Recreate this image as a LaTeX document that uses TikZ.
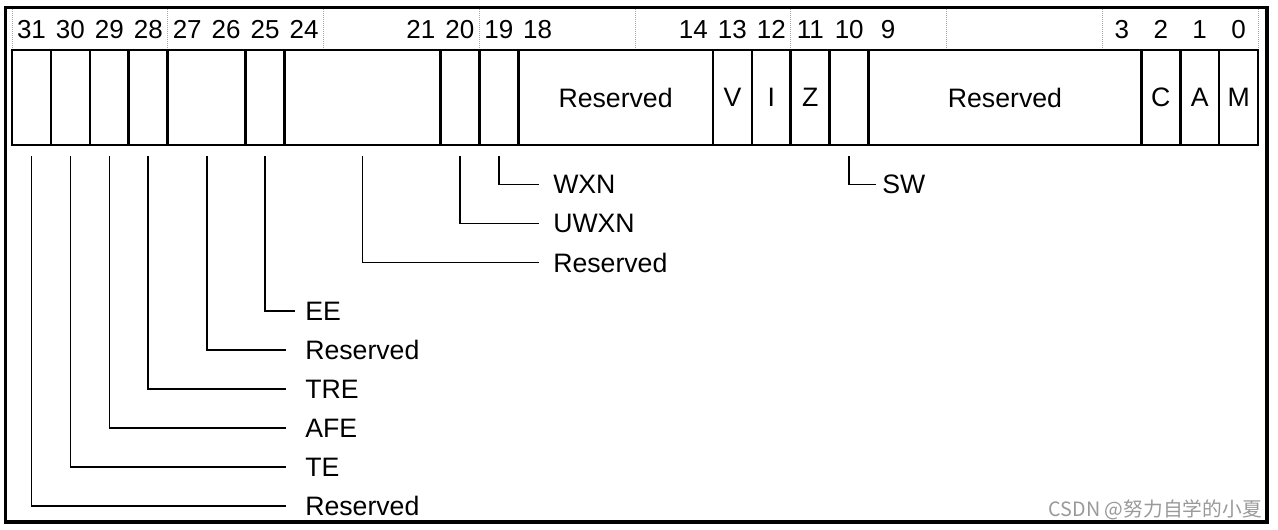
\documentclass[tikz,border=0pt]{standalone}
\usepackage{fontspec}
\setmainfont{Liberation Sans}
\newfontfamily\cjk{Noto Sans CJK SC}
\begin{document}
\begin{tikzpicture}[x=0.75pt,y=-0.75pt,
  field/.style={draw, line width=2pt, minimum height=71.25pt, inner sep=0pt, font=\fontsize{20}{24}\selectfont},
  bitno/.style={anchor=base, inner sep=0pt, font=\fontsize{19.5}{24}\selectfont},
  lbl/.style={anchor=west, inner sep=0pt, font=\fontsize{20}{24}\selectfont},
  lead/.style={line width=1.2pt},
  sep/.style={gray!70, densely dotted, line width=0.5pt}]
  \useasboundingbox (0,0) rectangle (1278,529);

  % frame
  \draw[line width=2.4pt] (5.5,7.5) rectangle (1267,522);

  % bit numbers
  \foreach \k in {0,...,8}
    \draw[sep] ({12+4*\k*38.94},9) -- ({12+4*\k*38.94},48);
  \foreach \b in {31,30,29,28,27,26,25,24,21,20,19,18,14,13,12,11,10,9,3,2,1,0}
    \node[bitno] (n\b) at ({12+(31-\b+0.5)*38.94},38) {\b};

  % fields
  \foreach \hi/\lo/\txt in {31/31/{},30/30/{},29/29/{},28/28/{},27/26/{},25/25/{},24/21/{},
      20/20/{},19/19/{},18/14/Reserved,13/13/V,12/12/I,11/11/Z,10/10/{},9/3/Reserved,2/2/C,1/1/A,0/0/M}
    \node[field, minimum width={(\hi-\lo+1)*29.205pt}] (f\hi) at ({12+(31-\hi+(\hi-\lo+1)/2)*38.94},97.5) {\txt};

  % labels
  \node[lbl] (l19) at (553,184.5) {WXN};
  \node[lbl] (l20) at (553,223.5) {UWXN};
  \node[lbl] (l24) at (553,262.5) {Reserved};
  \node[lbl] (l10) at (882,184.5) {SW};
  \node[lbl] (l25) at (305,311) {EE};
  \node[lbl] (l27) at (305,350) {Reserved};
  \node[lbl] (l28) at (305,389) {TRE};
  \node[lbl] (l29) at (305,428) {AFE};
  \node[lbl] (l30) at (305,467) {TE};
  \node[lbl] (l31) at (305,506) {Reserved};

  % leaders
  \foreach \b/\gap in {19/10.5,20/10.5,24/10.5,10/4.5,25/7.5,27/14.25,28/14.25,29/14.25,30/14.25,31/14.25}
    \draw[lead] (f\b.south) ++(0,10) |- ([xshift=-\gap pt]l\b.west);

  % watermark
  \node[anchor=east, inner sep=0pt, text=black!40, font=\cjk\fontsize{14.8}{18}\selectfont] (wm) at (1262,510) {CSDN @努力自学的小夏};
\end{tikzpicture}
\end{document}
